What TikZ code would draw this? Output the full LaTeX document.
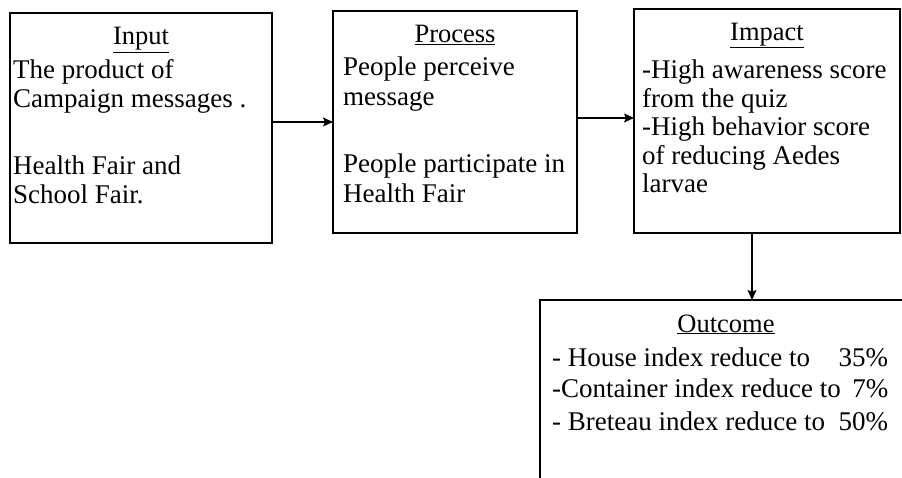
\documentclass[tikz,border=0pt]{standalone}
\usepackage{fontspec}
\setmainfont{Liberation Serif}
\usetikzlibrary{arrows.meta}
\newcommand{\boxtext}[1]{\begin{tabular}[t]{@{}l@{}}#1\end{tabular}}

\tikzset{
	blk/.style={draw, line width=1.1pt, inner sep=0pt, outer sep=0pt, anchor=north west},
	ttl/.style={anchor=base, inner sep=0pt, font=\fontsize{26.5}{28.5}\selectfont},
	txt/.style={anchor=base west, inner sep=0pt, font=\fontsize{27}{29}\selectfont},
	arr/.style={line width=1.1pt, -{Stealth[length=10pt,width=9pt,inset=2pt]}}
}

\begin{document}
\begin{tikzpicture}[x=1pt,y=-1pt]
	\clip (0,0) rectangle (902,478);
	\fill[white] (0,0) rectangle (902,478);
	
	\node[blk, minimum width=262pt, minimum height=230pt] (in) at (10,13) {};
	\node[blk, minimum width=244pt, minimum height=222pt] (pr) at (333,11) {};
	\node[blk, minimum width=266pt, minimum height=224pt] (im) at (634,9) {};
	\node[blk, minimum width=372pt, minimum height=200pt] (out) at (540,300) {};
	
	\node[ttl] (in-t) at ([yshift=-32pt]in.north) {\underline{Input}};
	\node[ttl] (pr-t) at ([yshift=-31.5pt]pr.north) {\underline{Process}};
	\node[ttl] (im-t) at ([yshift=-31.5pt]im.north) {\underline{Impact}};
	\node[ttl] (out-t) at ([yshift=-32pt]out.north) {\underline{Outcome}};
	
	\node[txt] (in-b) at (13,79) {\boxtext{The product of\\Campaign messages .\\[38pt]Health Fair and\\School Fair.}};
	\node[txt, font=\fontsize{27}{30}\selectfont] (pr-b) at (343,76) {\boxtext{People perceive\\message\\[37pt]People participate in\\Health Fair}};
	\node[txt, font=\fontsize{27}{28.5}\selectfont] (im-b) at (642,79) {\boxtext{-High awareness score\\from the quiz\\-High behavior score\\of reducing Aedes\\larvae}};
	\node[txt, font=\fontsize{27}{32}\selectfont] (out-b) at (552,366)
	{\boxtext{\makebox[336pt]{- House index reduce to\hfill 35\%}\\
		\makebox[336pt]{-Container index reduce to\hfill 7\%}\\
		\makebox[336pt]{- Breteau index reduce to\hfill 50\%}}};
	
	\draw[arr] (pr.west -| in.east) -- (pr.west);
	\draw[arr] ([yshift=4pt]pr.east) -- ([yshift=4pt]pr.east -| im.west);
	\draw[arr] ([xshift=-15pt]im.south) -- ([xshift=-15pt]im.south |- out.north);
	
\end{tikzpicture}
\end{document}
